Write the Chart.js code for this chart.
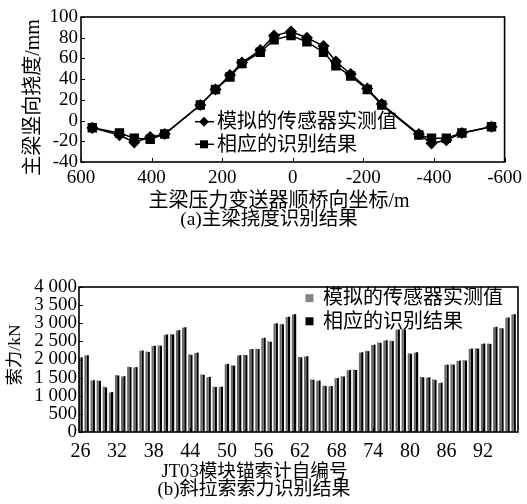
<!DOCTYPE html>
<html>
<head>
<meta charset="utf-8">
<script src="https://cdn.jsdelivr.net/npm/chart.js@4.4.0/dist/chart.umd.min.js"></script>
<style>
    html, body { margin: 0; padding: 0; background: #fff; }
    #box-a { position: absolute; left: 0; top: 0; width: 527px; height: 240px; }
    #box-b { position: absolute; left: 0; top: 240px; width: 527px; height: 264px; }
</style>
</head>
<body>
<div id="box-a"><canvas id="chart-a"></canvas></div>
<div id="box-b"><canvas id="chart-b"></canvas></div>
<script>
var FONT = "'Liberation Serif', 'Noto Sans CJK SC', serif";

// (a) girder deflection
var seriesNames = ['模拟的传感器实测值', '相应的识别结果'];
var girderX = [568, 491, 449, 404, 363, 262, 219, 178, 144, 92, 53, 5,
    -40, -87, -122, -164, -211, -252, -357, -393, -435, -479, -563];
var deflectionMeasured = [-7, -14, -21, -16, -13, 15, 30, 44, 56, 68, 82, 86,
    80, 72, 57, 45, 31, 16, -13, -22, -19, -12, -6];
var deflectionIdentified = [-7, -12, -17, -18, -13, 15, 30, 42, 55, 66, 78, 82,
    76, 66, 53, 43, 30, 15, -14, -17, -17, -12, -6];
var girderTicks = [600, 400, 200, 0, -200, -400, -600];

// (b) cable forces
var cableIds = [26, 27, 28, 29, 30, 31, 32, 33, 34, 35, 36, 37,
    38, 39, 40, 41, 42, 43, 44, 45, 46, 47, 48, 49,
    50, 51, 52, 53, 54, 55, 56, 57, 58, 59, 60, 61,
    62, 63, 64, 65, 66, 67, 68, 69, 70, 71, 72, 73,
    74, 75, 76, 77, 78, 79, 80, 81, 82, 83, 84, 85,
    86, 87, 88, 89, 90, 91, 92, 93, 94, 95, 96, 97];
var forceMeasured = [2040, 2110, 1420, 1420, 1250, 1090, 1570, 1530, 1800, 1780, 2240, 2220,
    2370, 2390, 2680, 2700, 2800, 2880, 2140, 2180, 1590, 1510, 1250, 1240,
    1870, 1840, 2110, 2130, 2280, 2300, 2590, 2500, 2990, 2980, 3170, 3240,
    2070, 2080, 1450, 1410, 1280, 1260, 1480, 1540, 1700, 1720, 2190, 2240,
    2400, 2470, 2520, 2520, 2820, 2840, 2170, 2190, 1520, 1500, 1450, 1350,
    1850, 1870, 1960, 1980, 2290, 2310, 2430, 2440, 2890, 2870, 3150, 3240];
var forceIdentified = [2060, 2120, 1430, 1410, 1230, 1100, 1560, 1540, 1790, 1790, 2250, 2210,
    2380, 2380, 2690, 2690, 2810, 2890, 2130, 2190, 1580, 1520, 1240, 1250,
    1880, 1830, 2120, 2120, 2290, 2290, 2600, 2490, 3000, 2970, 3180, 3250,
    2060, 2090, 1440, 1420, 1270, 1270, 1490, 1530, 1710, 1710, 2200, 2230,
    2410, 2460, 2530, 2510, 2830, 2830, 2160, 2200, 1510, 1510, 1440, 1360,
    1860, 1860, 1970, 1970, 2300, 2300, 2440, 2430, 2900, 2860, 3160, 3250];
var cableTicks = [26, 32, 38, 44, 50, 56, 62, 68, 74, 80, 86, 92];

var GREY = '#6a6a6a';

function pairs(xs, ys) {
    var out = [];
    for (var i = 0; i < xs.length; i++) {
        out.push({x: xs[i], y: ys[i]});
    }
    return out;
}

function marker(ctx, style, x, y, r) {
    ctx.beginPath();
    if (style === 'rectRot') {
        ctx.moveTo(x, y - r);
        ctx.lineTo(x + r, y);
        ctx.lineTo(x, y + r);
        ctx.lineTo(x - r, y);
        ctx.closePath();
    } else {
        ctx.rect(x - r, y - r, 2 * r, 2 * r);
    }
    ctx.fill();
}

// box round the plot and short inward tick marks
var framePlugin = {
    id: 'frame',
    afterDraw: function (chart) {
        var a = chart.chartArea, ctx = chart.ctx;
        ctx.save();
        ctx.strokeStyle = '#000';
        ctx.lineWidth = 1.6;
        ctx.strokeRect(a.left, a.top, a.right - a.left, a.bottom - a.top);
        ctx.lineWidth = 1;
        chart.scales.x.ticks.forEach(function (t) {
            var px = Math.round(chart.scales.x.getPixelForValue(t.value)) + 0.5;
            ctx.beginPath();
            ctx.moveTo(px, a.bottom);
            ctx.lineTo(px, a.bottom - 4);
            ctx.stroke();
        });
        chart.scales.y.ticks.forEach(function (t) {
            var py = Math.round(chart.scales.y.getPixelForValue(t.value)) + 0.5;
            ctx.beginPath();
            ctx.moveTo(a.left, py);
            ctx.lineTo(a.left + 4, py);
            ctx.stroke();
        });
        ctx.restore();
    }
};

// axis titles and captions at fixed spots on the canvas
function textPlugin(items) {
    return {
        id: 'texts',
        afterDraw: function (chart) {
            var ctx = chart.ctx;
            ctx.save();
            ctx.fillStyle = '#000';
            ctx.textAlign = 'center';
            ctx.textBaseline = 'middle';
            items.forEach(function (it) {
                ctx.save();
                ctx.font = it.size + 'px ' + FONT;
                ctx.translate(it.x, it.y);
                if (it.rotate) ctx.rotate(-Math.PI / 2);
                ctx.fillText(it.text, 0, 0);
                ctx.restore();
            });
            ctx.restore();
        }
    };
}

var legendA = {
    id: 'legendA',
    afterDraw: function (chart) {
        var a = chart.chartArea, ctx = chart.ctx;
        var rows = [104.7, 127.3];
        ctx.save();
        ctx.fillStyle = '#000';
        ctx.strokeStyle = '#000';
        ctx.lineWidth = 1.5;
        ctx.font = '20px ' + FONT;
        ctx.textBaseline = 'middle';
        chart.data.datasets.forEach(function (ds, i) {
            var y = a.top + rows[i];
            ctx.beginPath();
            ctx.moveTo(a.left + 114, y);
            ctx.lineTo(a.left + 133, y);
            ctx.stroke();
            marker(ctx, ds.pointStyle, a.left + 123, y, i === 0 ? 5 : 4);
            ctx.fillText(ds.label, a.left + 136, y + 1);
        });
        ctx.restore();
    }
};

var legendB = {
    id: 'legendB',
    afterDraw: function (chart) {
        var a = chart.chartArea, ctx = chart.ctx;
        var rows = [11.2, 34.3];
        ctx.save();
        ctx.font = '20px ' + FONT;
        ctx.textBaseline = 'middle';
        chart.data.datasets.forEach(function (ds, i) {
            var y = a.top + rows[i];
            ctx.fillStyle = i === 0 ? '#858585' : ds.backgroundColor;
            ctx.fillRect(a.left + 226.5, y - 4, 8, 8);
            ctx.fillStyle = '#000';
            ctx.fillText(ds.label, a.left + 244, y + 1);
        });
        ctx.restore();
    }
};

function tickFont(size) {
    return {family: FONT, size: size};
}

function getConfigA() {
    return {
        type: 'line',
        data: {
            datasets: [{
                label: seriesNames[0],
                data: pairs(girderX, deflectionMeasured),
                borderColor: '#000',
                backgroundColor: '#000',
                borderWidth: 1.5,
                pointStyle: 'rectRot',
                pointRadius: 5,
                tension: 0
            }, {
                label: seriesNames[1],
                data: pairs(girderX, deflectionIdentified),
                borderColor: '#000',
                backgroundColor: '#000',
                borderWidth: 1.5,
                pointStyle: 'rect',
                pointRadius: 5.6,
                tension: 0
            }]
        },
        options: {
            responsive: true,
            maintainAspectRatio: false,
            animation: false,
            devicePixelRatio: 1,
            layout: {padding: {left: 0, right: 17, top: 17, bottom: 26}},
            plugins: {legend: {display: false}, tooltip: {enabled: false}},
            scales: {
                x: {
                    type: 'linear',
                    reverse: true,
                    min: -600,
                    max: 600,
                    afterBuildTicks: function (scale) {
                        scale.ticks = girderTicks.map(function (v) { return {value: v}; });
                    },
                    afterFit: function (scale) { scale.height = 52; },
                    grid: {display: false, drawTicks: false},
                    border: {display: false},
                    ticks: {color: '#000', padding: 5, maxRotation: 0, autoSkip: false, font: tickFont(19)}
                },
                y: {
                    min: -40,
                    max: 100,
                    afterFit: function (scale) { scale.width = 81; },
                    grid: {display: false, drawTicks: false},
                    border: {display: false},
                    ticks: {color: '#000', padding: 3, stepSize: 20, autoSkip: false, font: tickFont(19)}
                }
            }
        },
        plugins: [framePlugin, legendA, textPlugin([
            {text: '主梁竖向挠度/mm', x: 34, y: 97.5, size: 20, rotate: true},
            {text: '主梁压力变送器顺桥向坐标/m', x: 279, y: 201.7, size: 20},
            {text: '(a)主梁挠度识别结果', x: 269, y: 220, size: 19.5}
        ])]
    };
}

function getConfigB() {
    return {
        type: 'bar',
        data: {
            datasets: [{
                label: seriesNames[0],
                data: pairs(cableIds, forceMeasured),
                backgroundColor: GREY,
                categoryPercentage: 0.72,
                barPercentage: 1
            }, {
                label: seriesNames[1],
                data: pairs(cableIds, forceIdentified),
                backgroundColor: '#000',
                categoryPercentage: 0.72,
                barPercentage: 1
            }]
        },
        options: {
            responsive: true,
            maintainAspectRatio: false,
            animation: false,
            devicePixelRatio: 1,
            layout: {padding: {left: 0, right: 9, top: 47, bottom: 20}},
            plugins: {legend: {display: false}, tooltip: {enabled: false}},
            scales: {
                x: {
                    type: 'linear',
                    offset: false,
                    min: 25.75,
                    max: 97.72,
                    afterBuildTicks: function (scale) {
                        scale.ticks = cableTicks.map(function (v) { return {value: v}; });
                    },
                    afterFit: function (scale) { scale.height = 52; },
                    grid: {display: false, drawTicks: false, offset: false},
                    border: {display: false},
                    ticks: {color: '#000', padding: 8, maxRotation: 0, autoSkip: false, font: tickFont(20)}
                },
                y: {
                    min: 0,
                    max: 4000,
                    afterFit: function (scale) { scale.width = 79; },
                    grid: {display: false, drawTicks: false},
                    border: {display: false},
                    ticks: {
                        color: '#000',
                        padding: 2,
                        stepSize: 500,
                        autoSkip: false,
                        font: tickFont(19),
                        callback: function (v) {
                            if (v >= 1000) {
                                var rest = String(v % 1000);
                                while (rest.length < 3) rest = '0' + rest;
                                return Math.floor(v / 1000) + ' ' + rest;
                            }
                            return String(v);
                        }
                    }
                }
            }
        },
        plugins: [framePlugin, legendB, textPlugin([
            {text: '索力/kN', x: 15, y: 115, size: 17.5, rotate: true},
            {text: 'JT03模块锚索计自编号', x: 254.5, y: 231.7, size: 18.6},
            {text: '(b)斜拉索索力识别结果', x: 254, y: 250, size: 19}
        ])]
    };
}

window.onload = function () {
    var ctxA = document.getElementById('chart-a').getContext('2d');
    window.chartA = new Chart(ctxA, getConfigA());
    var ctxB = document.getElementById('chart-b').getContext('2d');
    window.chartB = new Chart(ctxB, getConfigB());
};
</script>
</body>
</html>
